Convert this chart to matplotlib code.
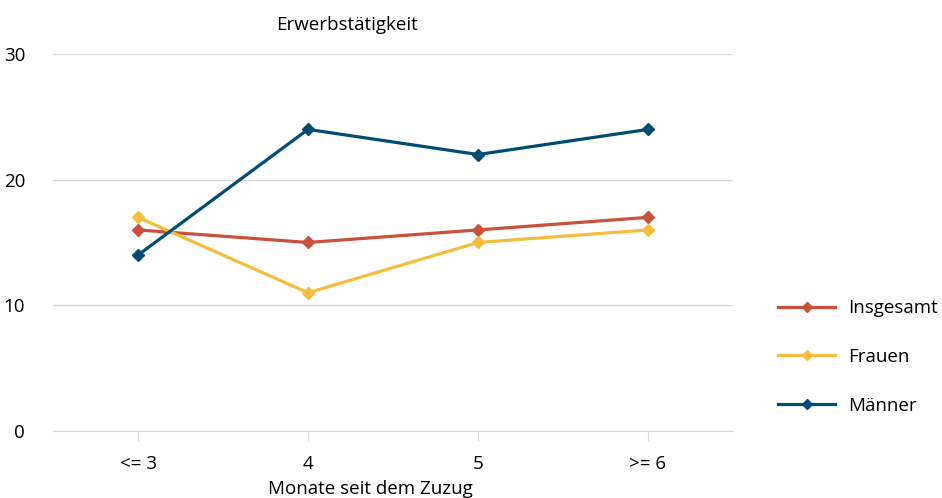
import matplotlib.pyplot as plt

categories = ["<= 3", "4", "5", ">= 6"]
insgesamt = [16, 15, 16, 17]
frauen = [17, 11, 15, 16]
maenner = [14, 24, 22, 24]

series = [
    ("Insgesamt", insgesamt, "#C9503A"),
    ("Frauen", frauen, "#F6BC3C"),
    ("Männer", maenner, "#004C75"),
]

plt.rcParams['font.family'] = ['Open Sans', 'DejaVu Sans']
plt.rcParams['font.size'] = 13.5

W, H = 942, 498
fig = plt.figure(figsize=(W / 100, H / 100), dpi=100)
ax = fig.add_axes([53 / W, 67 / H, 680 / W, (431 - 54) / H])

x = list(range(len(categories)))
for name, vals, col in series:
    ax.plot(x, vals, color=col, linewidth=2.3, marker='D', markersize=6.5,
            label=name, clip_on=False)

ax.set_xlim(-0.5, len(categories) - 0.5)
ax.set_ylim(0, 30)
ax.set_yticks([0, 10, 20, 30])
ax.set_xticks(x)
ax.set_xticklabels(categories)
ax.grid(axis='y', color='#d9d9d9', linewidth=1)
ax.set_axisbelow(True)
for s in ['top', 'right', 'left']:
    ax.spines[s].set_visible(False)
ax.spines['bottom'].set_color('#d9d9d9')
ax.tick_params(axis='y', length=0, pad=20)
ax.tick_params(axis='x', length=7, color='#d9d9d9', pad=10)

fig.text(347 / W, 1 - 25 / H, "Erwerbstätigkeit", ha='center', va='center')
fig.text(370 / W, 1 - 489 / H, "Monate seit dem Zuzug", ha='center', va='center')

fig.legend(loc='center left', bbox_to_anchor=(778 / W, 1 - 357 / H),
           frameon=False, borderpad=0, borderaxespad=0, handlelength=3.05,
           handletextpad=0.7, labelspacing=1.65, markerscale=0.85)

fig.savefig("out.png", dpi=100)
